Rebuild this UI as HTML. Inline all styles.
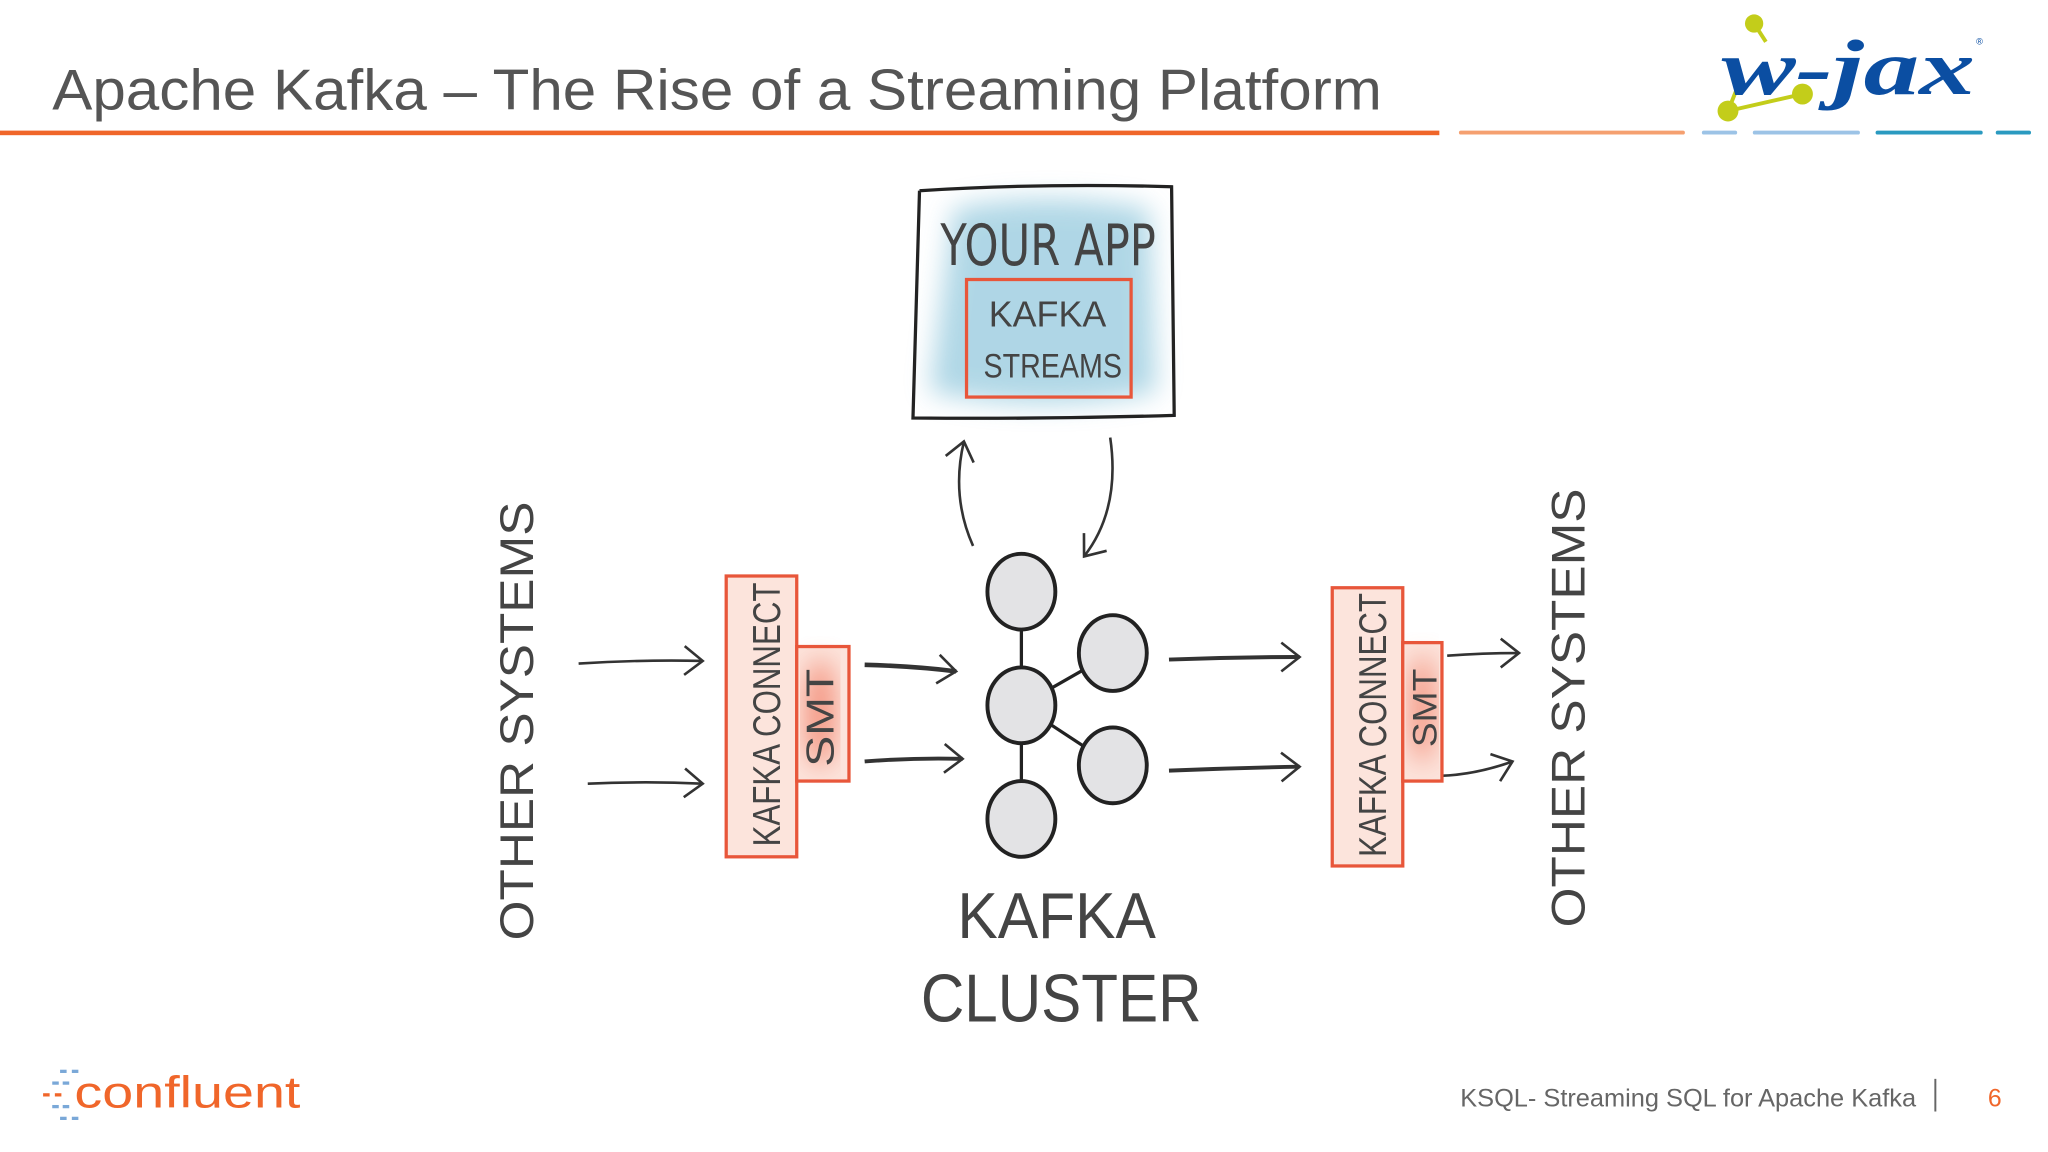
<!DOCTYPE html>
<html><head><meta charset="utf-8"><style>
html,body{margin:0;padding:0;background:#fff;}
svg{display:block;}
</style></head><body>
<svg width="2048" height="1152" viewBox="0 0 1568 882" preserveAspectRatio="none" xmlns="http://www.w3.org/2000/svg" font-family="Liberation Sans, sans-serif">
<defs>
<filter id="blur" x="-20%" y="-20%" width="140%" height="140%"><feGaussianBlur stdDeviation="10"/></filter>
<marker id="ah" markerWidth="20" markerHeight="24" refX="16" refY="12" orient="auto" markerUnits="userSpaceOnUse">
<path d="M2,1 L16,12 L2,23" fill="none" stroke="#333" stroke-width="2"/></marker>
</defs>
<rect width="1568" height="882" fill="#fff"/>
<text x="40" y="84" font-size="44" fill="#555" textLength="1018" lengthAdjust="spacingAndGlyphs">Apache Kafka – The Rise of a Streaming Platform</text>
<rect x="0" y="100" width="1102" height="3.5" fill="#f0662a"/>
<rect x="1117" y="100" width="173" height="3" fill="#f5a070" rx="1.5"/>
<rect x="1303" y="100" width="27" height="3" fill="#9cc3e6" rx="1.5"/>
<rect x="1342" y="100" width="82" height="3" fill="#9cc3e6" rx="1.5"/>
<rect x="1436" y="100" width="82" height="3" fill="#2a9ac0" rx="1.5"/>
<rect x="1528" y="100" width="27" height="3" fill="#2a9ac0" rx="1.5"/>
<line x1="1323" y1="85" x2="1380" y2="72" stroke="#c3cd1a" stroke-width="3"/>
<line x1="1323" y1="85" x2="1333" y2="60" stroke="#c3cd1a" stroke-width="3"/>
<line x1="1343" y1="18" x2="1352" y2="32" stroke="#c3cd1a" stroke-width="3"/>
<text x="1318" y="72" font-family="Liberation Serif, serif" font-weight="bold" font-style="italic" font-size="60" fill="#0b4ea2" textLength="194" lengthAdjust="spacingAndGlyphs">w-jax</text>
<circle cx="1343" cy="18" r="7" fill="#c3cd1a"/>
<circle cx="1323" cy="85" r="8" fill="#c3cd1a"/>
<circle cx="1380" cy="72" r="8" fill="#c3cd1a"/>
<text x="1513" y="34" font-size="7" fill="#0b4ea2">®</text>
<path d="M730,160 Q800,145 880,160 L885,300 Q800,318 712,300 Z" fill="#9ccde0" filter="url(#blur)" opacity="0.8"/>
<path d="M704,146 Q800,140 897,143 L899,318 Q800,321 699,320 L704,146" fill="none" stroke="#222" stroke-width="2.5"/>
<text x="720" y="203" font-size="44" fill="#444" font-family="DejaVu Sans, sans-serif" textLength="165" lengthAdjust="spacingAndGlyphs">YOUR APP</text>
<rect x="740" y="214" width="126" height="90" fill="none" stroke="#e8563a" stroke-width="2.5"/>
<text x="757" y="250" font-size="28" fill="#444" textLength="90" lengthAdjust="spacingAndGlyphs">KAFKA</text>
<text x="753" y="289" font-size="26" fill="#444" textLength="106" lengthAdjust="spacingAndGlyphs">STREAMS</text>
<path d="M745,418 Q728,380 738,338" fill="none" stroke="#333" stroke-width="2" marker-end="url(#ah)"/>
<path d="M850,335 Q858,390 830,426" fill="none" stroke="#333" stroke-width="2" marker-end="url(#ah)"/>
<g stroke="#222" stroke-width="2.5">
<line x1="782" y1="480" x2="782" y2="515"/>
<line x1="782" y1="565" x2="782" y2="600"/>
<line x1="782" y1="540" x2="852" y2="500"/>
<line x1="782" y1="540" x2="852" y2="586"/>
</g>
<g fill="#e3e3e5" stroke="#222" stroke-width="3">
<ellipse cx="782" cy="453" rx="26" ry="29"/>
<ellipse cx="852" cy="500" rx="26" ry="29"/>
<ellipse cx="782" cy="540" rx="26" ry="29"/>
<ellipse cx="852" cy="586" rx="26" ry="29"/>
<ellipse cx="782" cy="627" rx="26" ry="29"/>
</g>
<text x="733" y="718" font-size="50" fill="#444" textLength="152" lengthAdjust="spacingAndGlyphs">KAFKA</text>
<text x="705" y="782" font-size="52" fill="#444" textLength="215" lengthAdjust="spacingAndGlyphs">CLUSTER</text>
<rect x="556" y="441" width="54" height="215" fill="#fce4dc" stroke="#e8563a" stroke-width="2.5"/>
<rect x="610" y="495" width="40" height="103" fill="#fce4dc" stroke="#e8563a" stroke-width="2.5"/>
<ellipse cx="628" cy="546" rx="11" ry="42" fill="#f06a50" opacity="0.7" filter="url(#blur)"/>
<text transform="translate(597,648) rotate(-90)" font-size="30" fill="#444" textLength="202" lengthAdjust="spacingAndGlyphs">KAFKA CONNECT</text>
<text transform="translate(638,587) rotate(-90)" font-size="30" fill="#444" textLength="75" lengthAdjust="spacingAndGlyphs">SMT</text>
<g stroke="#333" stroke-width="2" fill="none">
<path d="M443,508 Q490,505 538,506" marker-end="url(#ah)"/>
<path d="M450,600 Q495,598 538,600" marker-end="url(#ah)"/>
<path d="M662,509 Q700,510 732,514" marker-end="url(#ah)" stroke-width="3.5"/>
<path d="M662,583 Q700,580 737,581" marker-end="url(#ah)" stroke-width="3"/>
<path d="M895,505 Q945,503 995,503" marker-end="url(#ah)" stroke-width="3"/>
<path d="M895,590 Q945,588 995,587" marker-end="url(#ah)" stroke-width="3"/>
<path d="M1108,502 Q1135,500 1163,500" marker-end="url(#ah)"/>
<path d="M1103,594 Q1130,593 1158,583" marker-end="url(#ah)"/>
</g>
<text transform="translate(408,720) rotate(-90)" font-size="36" fill="#444" textLength="336" lengthAdjust="spacingAndGlyphs">OTHER  SYSTEMS</text>
<rect x="1020" y="450" width="54" height="213" fill="#fce4dc" stroke="#e8563a" stroke-width="2.5"/>
<rect x="1074" y="492" width="30" height="106" fill="#fce4dc" stroke="#e8563a" stroke-width="2.5"/>
<ellipse cx="1089" cy="543" rx="9" ry="42" fill="#f06a50" opacity="0.7" filter="url(#blur)"/>
<text transform="translate(1061,656) rotate(-90)" font-size="30" fill="#444" textLength="202" lengthAdjust="spacingAndGlyphs">KAFKA CONNECT</text>
<text transform="translate(1100,572) rotate(-90)" font-size="26" fill="#444" textLength="60" lengthAdjust="spacingAndGlyphs">SMT</text>
<text transform="translate(1213,710) rotate(-90)" font-size="36" fill="#444" textLength="336" lengthAdjust="spacingAndGlyphs">OTHER  SYSTEMS</text>
<g fill="#7aa8d8">
<rect x="46" y="819" width="5" height="2.5"/><rect x="55" y="819" width="5" height="2.5"/>
<rect x="40" y="828" width="5" height="2.5"/><rect x="48" y="828" width="5" height="2.5"/>
<rect x="33" y="837" width="5" height="2.5" fill="#f0662a"/><rect x="42" y="837" width="5" height="2.5" fill="#f0662a"/>
<rect x="40" y="846" width="5" height="2.5"/><rect x="48" y="846" width="5" height="2.5"/>
<rect x="46" y="855" width="5" height="2.5"/><rect x="55" y="855" width="5" height="2.5"/>
</g>
<text x="57" y="848" font-size="34" fill="#f0662a" textLength="173" lengthAdjust="spacingAndGlyphs">confluent</text>
<text x="1118" y="847" font-size="19" fill="#666" textLength="349" lengthAdjust="spacingAndGlyphs">KSQL- Streaming SQL for Apache Kafka</text>
<rect x="1481" y="826" width="1.5" height="25" fill="#666"/>
<text x="1522" y="847" font-size="19" fill="#f0662a">6</text>
</svg>
</body></html>
